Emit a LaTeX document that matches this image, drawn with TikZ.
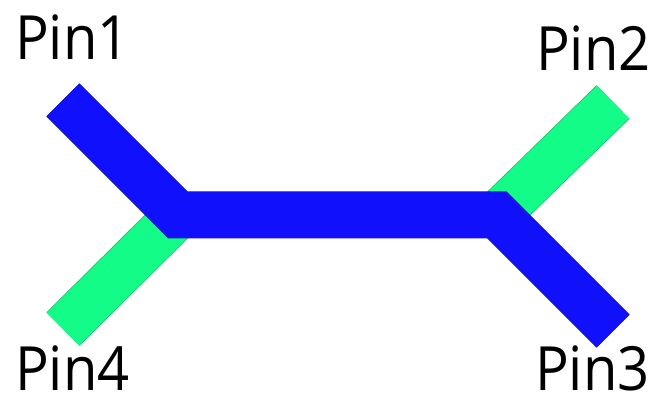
\documentclass[tikz,border=0pt]{standalone}
\usepackage{fontspec}
\setmainfont{Open Sans}
\definecolor{traceblue}{RGB}{16,16,252}
\definecolor{tracegreen}{RGB}{20,252,136}
\newcommand{\pintext}[1]{\scalebox{0.92}[1]{#1}}
\begin{document}
\begin{tikzpicture}[x=1pt,y=1pt,
	trace/.style={line width=47pt,line cap=butt,line join=miter},
	pinlabel/.style={anchor=base west,inner sep=0pt,font=\fontsize{61}{61}\selectfont}]
	\useasboundingbox (0,0) rectangle (659,401);
	\coordinate (P1) at (63,301); \coordinate (P2) at (613,299);
	\coordinate (P3) at (613,70); \coordinate (P4) at (63,72);
	\coordinate (L) at (178,186); \coordinate (R) at (497,186);
	% green branches under the blue trace
	\draw[trace,tracegreen!75!black] (P4)--(L) (P2)--(R);
	\draw[trace,line width=45.6pt,tracegreen] (P4)--(L) (P2)--(R);
	\draw[trace,traceblue!70!black] (P1)--(L)--(R)--(P3);
	\draw[trace,line width=45.6pt,traceblue] (P1)--(L)--(R)--(P3);
	\node[pinlabel] (pin1) at (15,341) {\pintext{Pin1}};
	\node[pinlabel] (pin2) at (536,330) {\pintext{Pin2}};
	\node[pinlabel] (pin3) at (535,10) {\pintext{Pin3}};
	\node[pinlabel] (pin4) at (15,10) {\pintext{Pin4}};
\end{tikzpicture}
\end{document}
